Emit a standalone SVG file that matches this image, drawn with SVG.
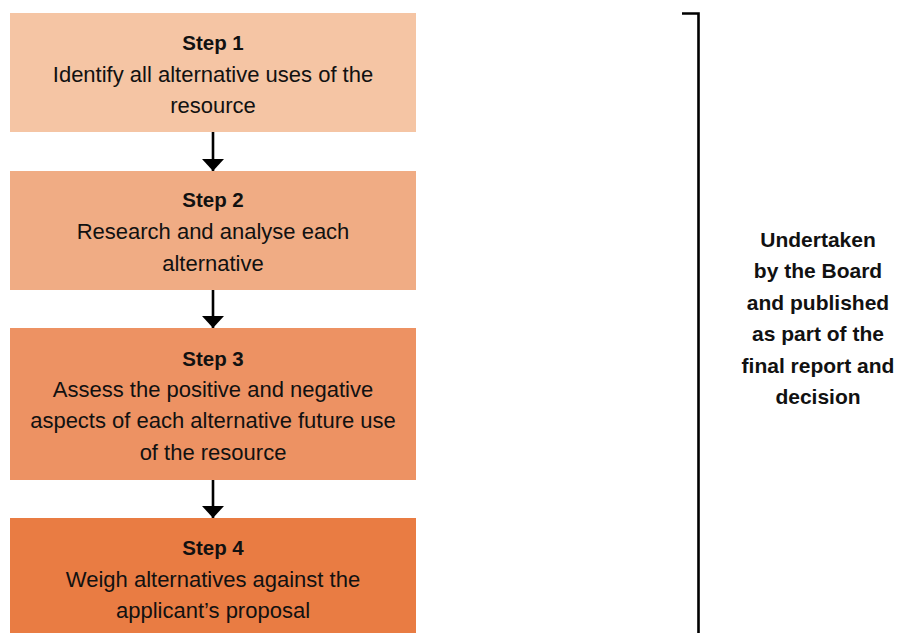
<svg xmlns="http://www.w3.org/2000/svg" width="898" height="633" viewBox="0 0 898 633">
<style>
text{font-family:"Liberation Sans",Arial,sans-serif;fill:#111;text-anchor:middle}
.b{font-weight:bold;font-size:20.5px}
.r{font-size:22px}
.rb{font-weight:bold;font-size:21px}
.ln{stroke:#000;stroke-width:2.6;fill:none}
</style>
<defs>
<marker id="ah" markerUnits="userSpaceOnUse" markerWidth="13" markerHeight="22" refX="12" refY="11" orient="auto">
<path d="M0,0 L12,11 L0,22 Z" fill="#000"/>
</marker>
</defs>
<rect width="898" height="633" fill="#fff"/>
<g id="step1">
<rect x="10" y="13" width="406" height="119" fill="#F5C5A4"/>
<text class="b" x="213" y="50">Step 1</text>
<text class="r" x="213" y="82">Identify all alternative uses of the</text>
<text class="r" x="213" y="113">resource</text>
</g>
<g id="step2">
<rect x="10" y="171" width="406" height="119" fill="#F0AC84"/>
<text class="b" x="213" y="207">Step 2</text>
<text class="r" x="213" y="239">Research and analyse each</text>
<text class="r" x="213" y="271">alternative</text>
</g>
<g id="step3">
<rect x="10" y="328" width="406" height="152" fill="#ED9263"/>
<text class="b" x="213" y="366">Step 3</text>
<text class="r" x="213" y="397">Assess the positive and negative</text>
<text class="r" x="213" y="428">aspects of each alternative future use</text>
<text class="r" x="213" y="460">of the resource</text>
</g>
<g id="step4">
<rect x="10" y="518" width="406" height="115" fill="#E97C43"/>
<text class="b" x="213" y="555">Step 4</text>
<text class="r" x="213" y="587">Weigh alternatives against the</text>
<text class="r" x="213" y="618">applicant’s proposal</text>
</g>
<g id="bracket">
<path class="ln" d="M682,13.5 H698.5 V633" stroke-width="3.2"/>
<text class="rb" x="818" y="246.5">Undertaken</text>
<text class="rb" x="818" y="277.5">by the Board</text>
<text class="rb" x="818" y="309.5">and published</text>
<text class="rb" x="818" y="340.5">as part of the</text>
<text class="rb" x="818" y="372.5">final report and</text>
<text class="rb" x="818" y="403.5">decision</text>
</g>
<g id="connectors">
<line class="ln" x1="213" y1="132" x2="213" y2="171" marker-end="url(#ah)"/>
<line class="ln" x1="213" y1="290" x2="213" y2="328" marker-end="url(#ah)"/>
<line class="ln" x1="213" y1="480" x2="213" y2="518" marker-end="url(#ah)"/>
</g>
</svg>
